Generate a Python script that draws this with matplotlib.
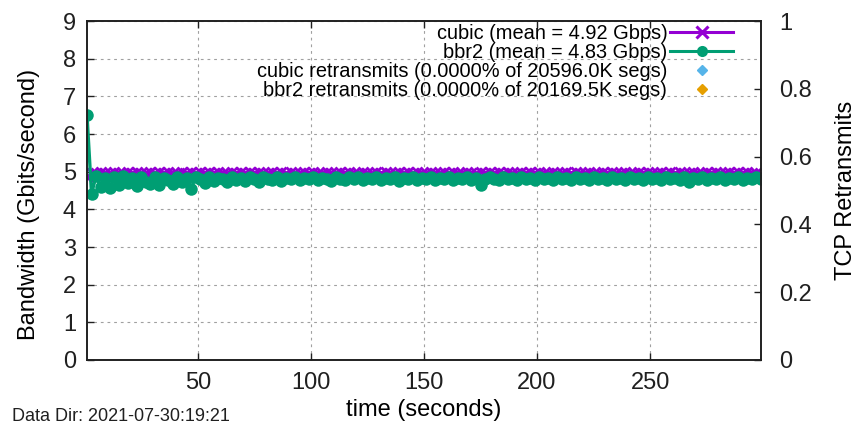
import numpy as np
import matplotlib.pyplot as plt
from matplotlib.lines import Line2D

plt.rcParams['font.family'] = ['Liberation Sans', 'DejaVu Sans']

# one sample every 2 s
time_s = np.arange(1, 300, 2)

cubic_gbps = [
    4.85, 4.98, 4.97, 4.99, 4.98, 4.96, 4.99, 4.98, 4.97, 4.99,
    4.98, 4.99, 4.96, 4.98, 4.99, 4.97, 4.99, 4.98, 4.99, 4.97,
    4.98, 4.99, 4.96, 4.99, 4.98, 4.99, 4.97, 4.99, 4.98, 4.99,
    4.98, 4.96, 4.99, 4.98, 4.99, 4.97, 4.99, 4.98, 4.99, 4.98,
    4.97, 4.99, 4.98, 4.99, 4.96, 4.99, 4.98, 4.97, 4.99, 4.98,
    4.99, 4.97, 4.98, 4.99, 4.98, 4.96, 4.99, 4.98, 4.99, 4.97,
    4.98, 4.99, 4.98, 4.96, 4.99, 4.98, 4.99, 4.97, 4.98, 4.99,
    4.97, 4.99, 4.98, 4.99, 4.98, 4.96, 4.99, 4.98, 4.97, 4.99,
    4.98, 4.99, 4.97, 4.98, 4.99, 4.98, 4.96, 4.99, 4.98, 4.99,
    4.97, 4.99, 4.98, 4.99, 4.96, 4.98, 4.99, 4.97, 4.99, 4.98,
    4.99, 4.98, 4.97, 4.99, 4.98, 4.96, 4.99, 4.98, 4.99, 4.97,
    4.98, 4.99, 4.98, 4.97, 4.99, 4.98, 4.99, 4.96, 4.98, 4.99,
    4.98, 4.97, 4.99, 4.98, 4.99, 4.97, 4.98, 4.99, 4.96, 4.99,
    4.98, 4.99, 4.97, 4.98, 4.99, 4.98, 4.97, 4.99, 4.98, 4.99,
    4.96, 4.98, 4.99, 4.97, 4.99, 4.98, 4.99, 4.97, 4.98, 4.95,
]

bbr2_gbps = [
    6.50, 4.42, 4.88, 4.60, 4.84, 4.56, 4.86, 4.66, 4.88, 4.70,
    4.84, 4.62, 4.86, 4.74, 4.68, 4.86, 4.66, 4.84, 4.78, 4.68,
    4.86, 4.72, 4.84, 4.54, 4.86, 4.80, 4.70, 4.86, 4.76, 4.84,
    4.80, 4.72, 4.86, 4.78, 4.84, 4.76, 4.86, 4.80, 4.74, 4.85,
    4.82, 4.78, 4.86, 4.76, 4.84, 4.80, 4.86, 4.78, 4.84, 4.80,
    4.86, 4.78, 4.84, 4.80, 4.76, 4.86, 4.82, 4.78, 4.85, 4.80,
    4.86, 4.78, 4.84, 4.80, 4.86, 4.78, 4.84, 4.80, 4.86, 4.76,
    4.84, 4.80, 4.86, 4.78, 4.84, 4.82, 4.86, 4.78, 4.84, 4.80,
    4.86, 4.78, 4.84, 4.80, 4.86, 4.78, 4.84, 4.66, 4.80, 4.86,
    4.82, 4.78, 4.86, 4.80, 4.84, 4.78, 4.86, 4.80, 4.84, 4.78,
    4.86, 4.80, 4.84, 4.78, 4.86, 4.82, 4.84, 4.78, 4.86, 4.80,
    4.84, 4.78, 4.86, 4.80, 4.84, 4.78, 4.86, 4.82, 4.84, 4.78,
    4.86, 4.80, 4.84, 4.78, 4.86, 4.82, 4.84, 4.78, 4.86, 4.80,
    4.84, 4.78, 4.86, 4.72, 4.84, 4.80, 4.86, 4.78, 4.84, 4.80,
    4.86, 4.78, 4.84, 4.80, 4.86, 4.78, 4.84, 4.82, 4.86, 4.80,
]

# no retransmits recorded
cubic_retx_t, cubic_retx = [], []
bbr2_retx_t, bbr2_retx = [], []

labels = [
    "cubic (mean = 4.92 Gbps)",
    "bbr2 (mean = 4.83 Gbps)",
    "cubic retransmits (0.0000% of 20596.0K segs)",
    "bbr2 retransmits (0.0000% of 20169.5K segs)",
]
colors = ["#9400d3", "#009e73", "#56b4e9", "#e69f00"]

fig = plt.figure(figsize=(8.58, 4.24), dpi=100)
ax = fig.add_axes([0.1014, 0.151, 0.7855, 0.799])
ax2 = ax.twinx()

ax.plot(time_s, cubic_gbps, color=colors[0], lw=2.0, marker='x', ms=7, mew=2.0)
ax.plot(time_s, bbr2_gbps, color=colors[1], lw=2.4, marker='o', ms=9, mew=0)
ax2.plot(cubic_retx_t, cubic_retx, ls='none', marker='D', ms=4, color=colors[2])
ax2.plot(bbr2_retx_t, bbr2_retx, ls='none', marker='D', ms=4, color=colors[3])

ax.set_xlim(1, 299)
ax.set_ylim(0, 9)
ax2.set_ylim(0, 1)
ax.set_xticks([50, 100, 150, 200, 250])
ax.set_yticks(range(0, 10))
ax2.set_yticks([0, 0.2, 0.4, 0.6, 0.8, 1])
ax2.set_yticklabels(["0", "0.2", "0.4", "0.6", "0.8", "1"])

ax.grid(True, color='#a0a0a0', lw=0.8, ls=(0, (2.5, 3.5)))
ax.set_axisbelow(True)

ax.tick_params(axis='both', direction='in', length=5, width=1, labelsize=17,
               colors='#202020', top=True, right=False)
ax.tick_params(axis='x', pad=9)
ax.tick_params(axis='y', pad=8)
ax2.tick_params(axis='y', direction='in', length=5, width=1, labelsize=17,
                colors='#202020', pad=13)
for a in (ax, ax2):
    for sp in a.spines.values():
        sp.set_linewidth(1.2)
        sp.set_color('#202020')

ax.set_xlabel("time (seconds)", fontsize=17)
ax.set_ylabel("Bandwidth (Gbits/second)", fontsize=17)
ax2.set_ylabel("TCP Retransmits", fontsize=17)
ax.xaxis.set_label_coords(0.5, -0.115)
ax.yaxis.set_label_coords(-0.07, 0.46)
ax2.yaxis.set_label_coords(1.110, 0.5)

handles = [
    Line2D([], [], color=colors[0], lw=2.2, marker='x', ms=8, mew=2.2),
    Line2D([], [], color=colors[1], lw=2.2, marker='o', ms=8, mew=0),
    Line2D([], [], color=colors[2], ls='none', marker='D', ms=5),
    Line2D([], [], color=colors[3], ls='none', marker='D', ms=5),
]
ax2.legend(handles, labels, loc='upper right', bbox_to_anchor=(0.959, 0.992),
           frameon=False, markerfirst=False, fontsize=14.4, handlelength=3.15,
           handletextpad=0.15, labelspacing=0.0, borderpad=0, borderaxespad=0)

fig.text(0.014, 0.006, "Data Dir: 2021-07-30:19:21", fontsize=13, color='#202020')

fig.savefig("out.png", dpi=100)
